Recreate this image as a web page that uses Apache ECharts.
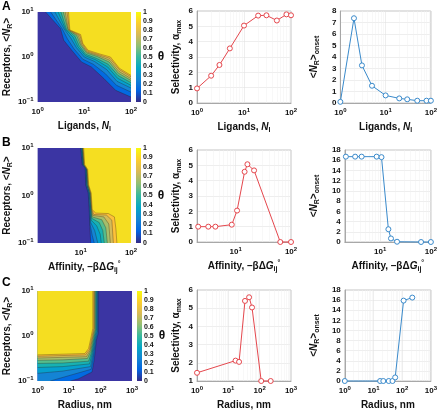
<!DOCTYPE html>
<html><head><meta charset="utf-8">
<script src="https://cdn.jsdelivr.net/npm/echarts@6/dist/echarts.min.js"></script>
<style>html,body{margin:0;padding:0;background:#fff}
#wrap{position:relative;width:440px;height:413px}
#c1{position:absolute;left:0;top:0;width:440px;height:413px}
#c2{position:absolute;left:300px;top:0;width:140px;height:413px}</style>
</head><body><div id="wrap"><div id="c1"></div><div id="c2"></div></div>
<script>
const FONT = 'Liberation Sans, Arial, Helvetica, sans-serif';

// ---------- Line-chart data ----------
const ligands = [1, 2, 3, 5, 10, 20, 30, 50, 80, 100];
const selectivityLigands = [0.95, 1.78, 2.48, 3.56, 5.05, 5.7, 5.72, 5.38, 5.78, 5.72];
const onsetLigands = [0.1, 7.37, 3.27, 1.5, 0.66, 0.4, 0.32, 0.2, 0.2, 0.2];

const affinity = [2.1, 3.2, 4.3, 8.5, 10.6, 14.5, 16.3, 21.5, 64, 100];
const selectivityAffinity = [1.0, 1.0, 1.0, 1.13, 2.05, 4.58, 5.07, 4.67, 0, 0];
const onsetAffinity = [16.7, 16.7, 16.7, 16.7, 16.6, 2.5, 0.7, 0.05, 0, 0];

const radius = [1, 17, 22, 34, 46, 57, 112, 225];
const selectivityRadius = [1.45, 2.12, 2.05, 5.40, 5.60, 5.04, 1.0, 1.0];
const onsetRadius = [0, 0, 0, 0, 0, 0.71, 15.9, 16.5];

// tick values of the log axes
const ticksLigands = [1, 10, 100];
const ticksAffinity = [10, 100];
const ticksRadius = [1, 10, 100, 1000];

// ---------- Contour data (theta levels 0.1 ... 0.9), vertices in log10 units ----------
const thetaLevels = [0.1, 0.2, 0.3, 0.4, 0.5, 0.6, 0.7, 0.8, 0.9];
const bandColors = ['#3B35A3', '#036AE1', '#1484D4', '#06A0CD', '#18B1B2',
                    '#55BD8D', '#A5BE6B', '#D3BB58', '#FEC13A', '#F5DE21'];
const colorbarTicks = [0, 0.1, 0.2, 0.3, 0.4, 0.5, 0.6, 0.7, 0.8, 0.9, 1];

// A: x = log10 ligands, y = log10 receptors
const contourA = [
  [[0.17,1],[0.49,0.63],[0.56,0.37],[0.73,0.15],[0.94,-0.11],[1.15,-0.22],[1.42,-0.48],[1.67,-0.74],[2,-0.89]],
  [[0.28,1],[0.53,0.62],[0.64,0.40],[0.78,0.18],[0.97,-0.05],[1.19,-0.16],[1.45,-0.37],[1.69,-0.63],[2,-0.78]],
  [[0.37,1],[0.57,0.62],[0.71,0.42],[0.83,0.21],[1.00,0.00],[1.22,-0.10],[1.48,-0.28],[1.70,-0.54],[2,-0.69]],
  [[0.44,1],[0.60,0.61],[0.76,0.44],[0.86,0.23],[1.02,0.03],[1.24,-0.06],[1.50,-0.22],[1.71,-0.47],[2,-0.63]],
  [[0.50,1],[0.62,0.61],[0.80,0.46],[0.89,0.25],[1.03,0.06],[1.26,-0.03],[1.51,-0.16],[1.72,-0.41],[2,-0.57]],
  [[0.55,1],[0.65,0.61],[0.84,0.47],[0.92,0.27],[1.05,0.09],[1.28,0.01],[1.53,-0.11],[1.73,-0.36],[2,-0.52]],
  [[0.59,1],[0.66,0.60],[0.87,0.48],[0.94,0.28],[1.06,0.11],[1.30,0.03],[1.54,-0.07],[1.74,-0.32],[2,-0.48]],
  [[0.63,1],[0.68,0.60],[0.90,0.49],[0.96,0.29],[1.07,0.13],[1.31,0.05],[1.55,-0.03],[1.75,-0.28],[2,-0.44]],
  [[0.66,1],[0.69,0.60],[0.92,0.50],[0.97,0.30],[1.08,0.15],[1.32,0.07],[1.56,0.00],[1.75,-0.25],[2,-0.41]]
];
// B: x = log10 affinity, y = log10 receptors
const contourB = [
  [[1.00,1],[1.03,0.65],[1.09,0.58],[1.10,0.22],[1.15,0.05],[1.17,-0.3],[1.18,-0.6],[1.20,-1]],
  [[1.01,1],[1.04,0.65],[1.10,0.58],[1.11,0.22],[1.16,0.05],[1.18,-0.3],[1.19,-0.62],[1.23,-0.84],[1.27,-1]],
  [[1.02,1],[1.05,0.65],[1.11,0.57],[1.12,0.22],[1.17,0.05],[1.19,-0.3],[1.20,-0.57],[1.28,-0.74],[1.34,-1]],
  [[1.03,1],[1.055,0.65],[1.115,0.57],[1.13,0.22],[1.18,0.05],[1.20,-0.3],[1.21,-0.52],[1.32,-0.64],[1.39,-0.82],[1.41,-1]],
  [[1.035,1],[1.06,0.65],[1.12,0.56],[1.135,0.22],[1.185,0.05],[1.21,-0.3],[1.22,-0.48],[1.37,-0.57],[1.44,-0.74],[1.47,-1]],
  [[1.04,1],[1.065,0.65],[1.125,0.56],[1.14,0.22],[1.19,0.05],[1.215,-0.3],[1.23,-0.45],[1.42,-0.51],[1.50,-0.68],[1.53,-1]],
  [[1.045,1],[1.07,0.65],[1.13,0.555],[1.15,0.22],[1.20,0.05],[1.22,-0.3],[1.24,-0.42],[1.46,-0.45],[1.56,-0.60],[1.59,-1]],
  [[1.05,1],[1.075,0.65],[1.135,0.55],[1.155,0.22],[1.205,0.05],[1.225,-0.3],[1.26,-0.40],[1.51,-0.41],[1.62,-0.52],[1.65,-1]],
  [[1.06,1],[1.08,0.65],[1.14,0.55],[1.16,0.22],[1.21,0.05],[1.23,-0.3],[1.30,-0.37],[1.55,-0.38],[1.67,-0.45],[1.70,-0.7],[1.72,-1]]
];
// C: x = log10 radius, y = log10 receptors
const contourC = [
  [[1.929,1],[1.929,0.06],[1.87,-0.09],[1.80,-0.52],[1.73,-0.80],[1.30,-0.95],[1.04,-1]],
  [[1.908,1],[1.908,0.08],[1.85,-0.08],[1.77,-0.48],[1.70,-0.74],[0.90,-0.90],[0.40,-1]],
  [[1.888,1],[1.888,0.10],[1.83,-0.07],[1.75,-0.44],[1.68,-0.68],[0.80,-0.78],[0,-0.83]],
  [[1.867,1],[1.867,0.12],[1.81,-0.06],[1.73,-0.40],[1.65,-0.62],[0.80,-0.68],[0,-0.70]],
  [[1.847,1],[1.847,0.14],[1.79,-0.05],[1.71,-0.37],[1.62,-0.56],[0.80,-0.60],[0,-0.61]],
  [[1.827,1],[1.827,0.15],[1.77,-0.04],[1.69,-0.34],[1.58,-0.50],[0.80,-0.53],[0,-0.54]],
  [[1.806,1],[1.806,0.16],[1.75,-0.03],[1.67,-0.32],[1.55,-0.46],[0,-0.49]],
  [[1.786,1],[1.786,0.17],[1.73,-0.02],[1.65,-0.30],[1.52,-0.42],[0,-0.45]],
  [[1.755,1],[1.755,0.17],[1.70,-0.02],[1.62,-0.28],[1.50,-0.39],[0,-0.42]]
];

// ---------- styling helpers ----------
const TXT = '#111';
const RED = '#E5474D';
const BLUE = '#3A8ACB';
const labelRich = {
  sup: {fontFamily: FONT, fontWeight: 'bold', fontSize: 6, verticalAlign: 'top', lineHeight: 6, color: TXT}
};
const nameRich = {
  i: {fontFamily: FONT, fontWeight: 'bold', fontStyle: 'italic', fontSize: 10, color: TXT},
  sub: {fontFamily: FONT, fontWeight: 'bold', fontSize: 7, verticalAlign: 'bottom', lineHeight: 7, color: TXT},
  sup: {fontFamily: FONT, fontWeight: 'bold', fontSize: 7, verticalAlign: 'top', lineHeight: 7, color: TXT}
};
const nameStyle = {fontFamily: FONT, fontWeight: 'bold', fontSize: 10, color: TXT, lineHeight: 13, rich: nameRich};
const tickStyle = {fontFamily: FONT, fontWeight: 'bold', fontSize: 8, color: TXT, lineHeight: 11, rich: labelRich};
const plainTick = {fontFamily: FONT, fontWeight: 'bold', fontSize: 8, color: TXT, margin: 4, showMinLabel: true, showMaxLabel: true};

function expLabel(e) { return '10{sup|' + (e < 0 ? '\u2212' + (-e) : e) + '}'; }
function logLabel(v) {
  const l = Math.log10(v), e = Math.round(l);
  return Math.abs(l - e) < 1e-6 ? expLabel(e) : '';
}

const grids = [
  {left: 35, top: 12, width: 96, height: 90},
  {left: 136, top: 12, width: 5, height: 90},
  {left: 197, top: 11, width: 94, height: 92},
  {left: 337, top: 11, width: 95, height: 92},
  {left: 33, top: 148, width: 98, height: 95},
  {left: 136, top: 148, width: 5, height: 95},
  {left: 197, top: 150, width: 94, height: 92},
  {left: 337, top: 150, width: 95, height: 92},
  {left: 34, top: 291, width: 98, height: 90},
  {left: 137, top: 291, width: 5, height: 90},
  {left: 197, top: 290, width: 94, height: 92},
  {left: 337, top: 290, width: 95, height: 92}
].map((g, i) => {
  const kind = i % 4;
  if (kind === 0) return Object.assign(g, {show: true, backgroundColor: bandColors[0], borderWidth: 0});
  if (kind === 1) return g;
  return Object.assign(g, {show: true, borderColor: '#b5b5b5', borderWidth: 0.8, backgroundColor: '#fff'});
});

const NAME_L = 'Ligands, {i|N}{sub|l}';
const NAME_AFF = 'Affinity, \u2013\u03b2\u0394{i|G}{sub|ij}{sup|\u00b0}';
const NAME_R = 'Radius, nm';
const NAME_REC = 'Receptors, <{i|N}{sub|R}>';
const NAME_SEL = 'Selectivity, \u03b1{sub|max}';
const NAME_ON = '<{i|N}{sub|R}>{sub|onset}';

function heatX(gi, min, max, name, custom) {
  const lab = Object.assign({}, tickStyle, {margin: 4, formatter: v => expLabel(Math.round(v))});
  if (custom) { lab.customValues = custom; }
  return {gridIndex: gi, type: 'value', min, max, interval: custom ? undefined : 1,
    axisLine: {show: false}, axisTick: {show: false}, splitLine: {show: false}, axisLabel: lab,
    name, nameLocation: 'middle', nameGap: 18, nameTextStyle: nameStyle};
}
function heatY(gi) {
  return {gridIndex: gi, type: 'value', min: -1, max: 1, interval: 1,
    axisLine: {show: false}, axisTick: {show: false}, splitLine: {show: false},
    axisLabel: Object.assign({}, tickStyle, {margin: 4, formatter: v => expLabel(Math.round(v))}),
    name: NAME_REC, nameLocation: 'middle', nameGap: 22, nameRotate: 90, nameTextStyle: nameStyle};
}
function cbX(gi) { return {gridIndex: gi, type: 'category', data: [''], show: false}; }
function cbY(gi) {
  return {gridIndex: gi, type: 'value', position: 'right', min: 0, max: 1, interval: 0.1,
    axisLine: {show: false}, axisTick: {show: false}, splitLine: {show: false},
    axisLabel: {fontFamily: FONT, fontWeight: 'bold', fontSize: 7, color: TXT, margin: 2,
      formatter: v => String(Math.round(v * 10) / 10)},
    name: '\u03b8', nameLocation: 'middle', nameRotate: 0, nameGap: 13,
    nameTextStyle: {fontFamily: FONT, fontWeight: 'bold', fontSize: 12, color: TXT}};
}
function logX(gi, min, max, name, tickVals) {
  return {gridIndex: gi, type: 'log', logBase: 10, min, max,
    axisLine: {show: true, lineStyle: {color: '#999', width: 0.8}}, axisTick: {show: false},
    splitLine: {show: true, lineStyle: {color: '#e3e3e3', width: 0.6}},
    minorTick: {show: false, splitNumber: 9},
    minorSplitLine: {show: true, lineStyle: {color: '#f1f1f1', width: 0.5}},
    axisLabel: Object.assign({}, tickStyle, {margin: 4, formatter: logLabel, customValues: tickVals}),
    name, nameLocation: 'middle', nameGap: 18, nameTextStyle: nameStyle};
}
function linY(gi, min, max, interval, name) {
  return {gridIndex: gi, type: 'value', min, max, interval,
    axisLine: {show: true, lineStyle: {color: '#999', width: 0.8}}, axisTick: {show: false},
    splitLine: {show: true, lineStyle: {color: '#e3e3e3', width: 0.6}},
    axisLabel: plainTick,
    name, nameLocation: 'middle', nameGap: 14, nameRotate: 90, nameTextStyle: nameStyle};
}

const xAxes = [
  heatX(0, 0, 2, NAME_L), cbX(1),
  logX(2, 1, 100, NAME_L, ticksLigands), logX(3, 1, 100, NAME_L, ticksLigands),
  heatX(4, Math.log10(1.4), 2, NAME_AFF, [1, 2]), cbX(5),
  logX(6, 2, 100, NAME_AFF, ticksAffinity), logX(7, 2, 100, NAME_AFF, ticksAffinity),
  heatX(8, 0, 3, NAME_R), cbX(9),
  logX(10, 1, 1000, NAME_R, ticksRadius), logX(11, 1, 1000, NAME_R, ticksRadius)
];
const yAxes = [
  heatY(0), cbY(1), linY(2, 0, 6, 1, NAME_SEL), linY(3, 0, 8, 1, NAME_ON),
  heatY(4), cbY(5), linY(6, 0, 6, 1, NAME_SEL), linY(7, 0, 18, 2, NAME_ON),
  heatY(8), cbY(9), linY(10, 1, 6, 1, NAME_SEL), linY(11, 0, 18, 2, NAME_ON)
];

function contourSeries(ai, contours, xmin, xmax, side) {
  return {
    type: 'custom', xAxisIndex: ai, yAxisIndex: ai, silent: true, clip: true,
    data: contours.map(c => c[0]),
    renderItem: function (params, api) {
      const c = contours[params.dataIndex];
      const last = c[c.length - 1];
      let corners;
      if (side === 'upperRight') corners = [[xmax, 1]];
      else if (side === 'right') corners = [[xmax, -1], [xmax, 1]];
      else corners = last[1] > -0.999 ? [[xmin, 1]] : [[xmin, -1], [xmin, 1]];
      const poly = c.concat(corners).map(p => api.coord(p));
      const line = c.map(p => api.coord(p));
      return {type: 'group', children: [
        {type: 'polygon', shape: {points: poly}, style: {fill: bandColors[params.dataIndex + 1], stroke: null}},
        {type: 'polyline', shape: {points: line}, style: {stroke: 'rgba(40,25,10,0.5)', lineWidth: 0.6, fill: null}}
      ]};
    }
  };
}
const parulaStops = [
  {offset: 0, color: '#352A87'}, {offset: 0.125, color: '#0363E1'}, {offset: 0.25, color: '#1485D4'},
  {offset: 0.375, color: '#06A7C6'}, {offset: 0.5, color: '#38B99E'}, {offset: 0.625, color: '#92BF73'},
  {offset: 0.75, color: '#D9BA56'}, {offset: 0.875, color: '#FCCE2E'}, {offset: 1, color: '#F9FB0E'}
];
function colorbarSeries(ai) {
  return {type: 'bar', xAxisIndex: ai, yAxisIndex: ai, data: [colorbarTicks[colorbarTicks.length - 1]],
    barWidth: '100%', silent: true,
    itemStyle: {color: new echarts.graphic.LinearGradient(0, 1, 0, 0, parulaStops)}};
}
function lineSeries(ai, xs, ys, color) {
  return {type: 'line', xAxisIndex: ai, yAxisIndex: ai, data: xs.map((x, i) => [x, ys[i]]),
    symbol: 'circle', symbolSize: 5, showAllSymbol: true, clip: false, silent: true,
    lineStyle: {color, width: 1}, itemStyle: {color: '#fff', borderColor: color, borderWidth: 1}};
}

const series = [
  contourSeries(0, contourA, 0, 2, 'upperRight'), colorbarSeries(1),
  lineSeries(2, ligands, selectivityLigands, RED), lineSeries(3, ligands, onsetLigands, BLUE),
  contourSeries(4, contourB, Math.log10(1.4), 2, 'right'), colorbarSeries(5),
  lineSeries(6, affinity, selectivityAffinity, RED), lineSeries(7, affinity, onsetAffinity, BLUE),
  contourSeries(8, contourC, 0, 3, 'upperLeft'), colorbarSeries(9),
  lineSeries(10, radius, selectivityRadius, RED), lineSeries(11, radius, onsetRadius, BLUE)
];

// split the panels over two chart instances (left+middle columns, right column)
function pick(indices, dx) {
  return {
    grid: indices.map(i => Object.assign({}, grids[i], {left: grids[i].left - dx})),
    xAxis: indices.map((i, k) => Object.assign({}, xAxes[i], {gridIndex: k})),
    yAxis: indices.map((i, k) => Object.assign({}, yAxes[i], {gridIndex: k})),
    series: series.filter(s => indices.indexOf(s.xAxisIndex) >= 0).map(s =>
      Object.assign({}, s, {xAxisIndex: indices.indexOf(s.xAxisIndex), yAxisIndex: indices.indexOf(s.yAxisIndex)}))
  };
}

const letterStyle = {font: 'bold 12px ' + FONT, fill: '#000'};
const chart1 = echarts.init(document.getElementById('c1'), null, {renderer: 'canvas'});
chart1.setOption(Object.assign({
  animation: false,
  backgroundColor: '#fff',
  graphic: [
    {type: 'text', left: 2, top: 1, style: Object.assign({text: 'A'}, letterStyle)},
    {type: 'text', left: 2, top: 137, style: Object.assign({text: 'B'}, letterStyle)},
    {type: 'text', left: 2, top: 277, style: Object.assign({text: 'C'}, letterStyle)}
  ]
}, pick([0, 1, 2, 4, 5, 6, 8, 9, 10], 0)));

const chart2 = echarts.init(document.getElementById('c2'), null, {renderer: 'canvas'});
chart2.setOption(Object.assign({animation: false}, pick([3, 7, 11], 300)));
</script></body></html>
